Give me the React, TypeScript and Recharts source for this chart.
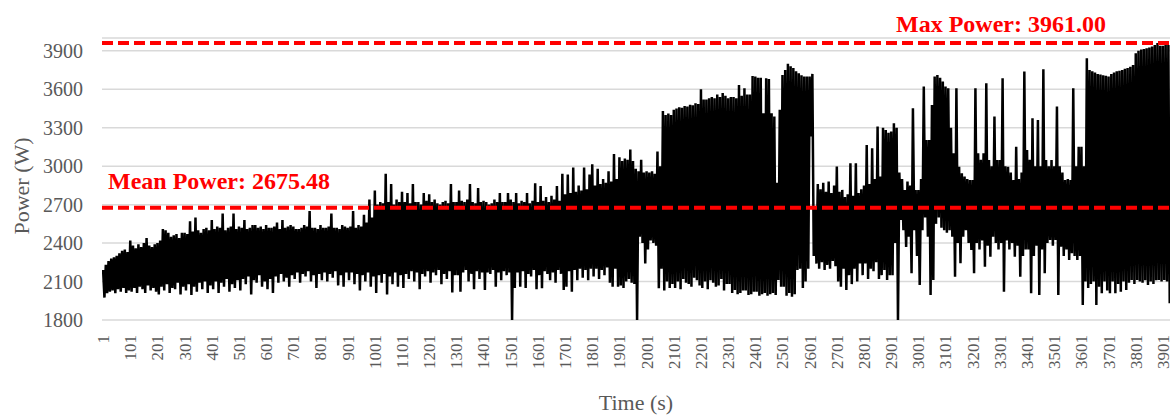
import { CartesianGrid, Line, LineChart, ReferenceLine, XAxis, YAxis } from "recharts";

// power readings taken off the trace, one every SAMPLE_STEP seconds
// (each row below covers 100 s: peak / trough alternating)
const FIRST_SECOND = 1;
const SAMPLE_STEP = 5;

const POWER_W = [
  2190, 1975, 2230, 2010, 2260, 2020, 2280, 2030, 2290, 2010, 2300, 2040, 2320, 2020, 2340, 2050, 2350, 2010, 2330, 2030,
  2420, 2020, 2380, 2050, 2360, 2010, 2390, 2060, 2370, 2040, 2400, 2010, 2440, 2070, 2380, 2030, 2370, 2050, 2390, 2020,
  2400, 2000, 2420, 2060, 2510, 2030, 2500, 2080, 2480, 2010, 2450, 2050, 2460, 2040, 2470, 2090, 2440, 2000, 2480, 2060,
  2480, 2030, 2470, 2080, 2570, 1995, 2490, 2060, 2600, 2020, 2500, 2090, 2480, 2040, 2510, 2100, 2520, 2010, 2500, 2070,
  2580, 2040, 2510, 2100, 2530, 2010, 2520, 2090, 2630, 2060, 2500, 2120, 2520, 2020, 2530, 2080, 2630, 2050, 2510, 2110,
  2530, 2030, 2520, 2120, 2580, 2080, 2510, 2140, 2520, 2000, 2540, 2110, 2540, 2090, 2520, 2150, 2530, 2060, 2510, 2100,
  2540, 2040, 2520, 2120, 2520, 2010, 2530, 2140, 2560, 2090, 2510, 2160, 2580, 2100, 2520, 2130, 2530, 2060, 2540, 2150,
  2530, 2120, 2510, 2170, 2510, 2090, 2520, 2160, 2540, 2140, 2530, 2180, 2650, 2100, 2520, 2150, 2520, 2050, 2510, 2160,
  2540, 2110, 2520, 2170, 2520, 2100, 2530, 2160, 2630, 2130, 2520, 2180, 2520, 2070, 2510, 2150, 2540, 2060, 2530, 2170,
  2520, 2110, 2530, 2170, 2650, 2080, 2520, 2160, 2540, 2030, 2530, 2150, 2620, 2100, 2560, 2170, 2740, 2060, 2600, 2140,
  2810, 2010, 2700, 2150, 2720, 2090, 2710, 2160, 2940, 2000, 2720, 2140, 2860, 2080, 2700, 2170, 2740, 2060, 2720, 2150,
  2800, 2050, 2720, 2160, 2790, 2120, 2710, 2180, 2860, 2100, 2720, 2170, 2720, 2040, 2700, 2160, 2790, 2140, 2730, 2180,
  2780, 2090, 2720, 2170, 2740, 2150, 2710, 2190, 2700, 2080, 2720, 2160, 2730, 2120, 2710, 2180, 2860, 2014, 2720, 2150,
  2720, 2150, 2810, 2020, 2730, 2170, 2720, 2190, 2740, 2100, 2860, 2160, 2720, 2040, 2710, 2180, 2830, 2120, 2720, 2170,
  2730, 2034, 2720, 2170, 2700, 2160, 2710, 2190, 2740, 2060, 2720, 2170, 2790, 2110, 2720, 2180, 2720, 2150, 2790, 2170,
  2740, 1790, 2720, 2050, 2790, 2170, 2710, 2060, 2730, 2180, 2720, 2050, 2790, 2160, 2710, 2140, 2730, 2190, 2867, 2040,
  2720, 2150, 2845, 2047, 2730, 2180, 2760, 2160, 2720, 2110, 2770, 2170, 2740, 2090, 2845, 2190, 2730, 2160, 2940, 2034,
  2780, 2060, 2935, 2180, 2790, 2020, 2990, 2190, 2800, 2110, 2850, 2200, 2810, 2130, 2990, 2190, 2820, 2110, 2935, 2200,
  3015, 2140, 2850, 2200, 2980, 2120, 2860, 2190, 2900, 2150, 2870, 2210, 2960, 2090, 2880, 2060, 3094, 2200, 2900, 2060,
  3070, 2070, 3040, 2050, 3060, 2100, 3050, 2120, 3130, 2090, 3040, 2080, 2980, 1790, 2960, 2450, 3050, 2400, 2950, 2240,
  2960, 2350, 2950, 2420, 2960, 2400, 2940, 2380, 3115, 2047, 3000, 2200, 3430, 2030, 3400, 2100, 3410, 2050, 3400, 2080,
  3440, 2050, 3450, 2100, 3460, 2040, 3455, 2120, 3470, 2090, 3465, 2080, 3480, 2060, 3475, 2130, 3490, 2110, 3485, 2070,
  3600, 2050, 3520, 2100, 3520, 2040, 3530, 2110, 3540, 2090, 3530, 2060, 3560, 2070, 3540, 2120, 3570, 2030, 3550, 2080,
  3530, 2080, 3540, 2010, 3540, 2034, 3530, 2000, 3634, 2010, 3550, 2030, 3608, 2030, 3560, 1995, 3560, 2000, 3704, 2020,
  3700, 2020, 3690, 1990, 3690, 2000, 3413, 2010, 3686, 1990, 3680, 2000, 3413, 2010, 3387, 1995, 2870, 2112, 3440, 2060,
  3712, 2060, 3750, 1990, 3800, 2010, 3780, 1982, 3765, 2000, 3740, 2190, 3725, 2200, 3710, 2050, 3700, 2100, 3700, 2200,
  3700, 3232, 3720, 2300, 2680, 2240, 2860, 2200, 2820, 2250, 2870, 2190, 2800, 2230, 2880, 2200, 2790, 2260, 2850, 2220,
  2997, 2100, 2800, 2060, 2815, 2200, 2760, 2034, 2780, 2150, 3023, 2080, 2770, 2200, 3023, 2100, 2790, 2240, 2820, 2150,
  2850, 2240, 3165, 2120, 2860, 2200, 3140, 2180, 2900, 2250, 3310, 2120, 2920, 2150, 3300, 2190, 3282, 2112, 3260, 2150,
  3270, 2150, 3335, 2400, 3300, 1790, 2950, 2580, 2900, 2500, 2814, 2370, 2880, 2450, 2850, 2164, 3452, 2500, 2814, 2300,
  2814, 2073, 2900, 2500, 3621, 2600, 3204, 2450, 3204, 1995, 3478, 2112, 3699, 2550, 3712, 2600, 3690, 2520, 3660, 2500,
  3621, 2480, 3608, 2500, 3300, 2450, 3100, 2138, 3608, 2400, 2996, 2242, 2944, 2450, 2920, 2500, 2900, 2400, 2892, 2346,
  2892, 2164, 3608, 2400, 3100, 2350, 3050, 2420, 3100, 2216, 3647, 2380, 3048, 2294, 3000, 2450, 3387, 2400, 3048, 2350,
  3048, 2400, 3686, 2021, 3000, 2420, 2996, 2350, 2950, 2400, 2892, 2294, 3152, 2380, 2900, 2138, 2950, 2300, 3738, 2350,
  3126, 2350, 3050, 2008, 3374, 2300, 3000, 2380, 3360, 1995, 3000, 2350, 3756, 2164, 3048, 2400, 3000, 2424, 3048, 2380,
  3000, 2424, 3465, 1995, 3000, 2372, 2950, 2300, 2892, 2350, 2900, 2268, 2892, 2320, 3608, 2300, 3000, 2268, 3152, 2300,
  3152, 1917, 3000, 2100, 3842, 2050, 3751, 2080, 3740, 2100, 3730, 1917, 3720, 2060, 3715, 2008, 3710, 2100, 3705, 2030,
  3700, 2008, 3720, 2100, 3730, 2008, 3740, 2080, 3745, 2020, 3750, 2100, 3760, 2034, 3765, 2090, 3775, 2112, 3790, 2080,
  3881, 2112, 3900, 2100, 3910, 2090, 3915, 2110, 3920, 2073, 3925, 2100, 3933, 2080, 3945, 2110, 3961, 2112, 3940, 2100,
  3940, 2112, 3946, 2100, 3946, 1930,
];

const X_TICKS = [
  1, 101, 201, 301, 401, 501, 601, 701, 801, 901,
  1001, 1101, 1201, 1301, 1401, 1501, 1601, 1701, 1801, 1901,
  2001, 2101, 2201, 2301, 2401, 2501, 2601, 2701, 2801, 2901,
  3001, 3101, 3201, 3301, 3401, 3501, 3601, 3701, 3801, 3901,
];
const Y_TICKS = [1800, 2100, 2400, 2700, 3000, 3300, 3600, 3900];

const MEAN_POWER = 2675.48;
const MAX_POWER = 3961;

const rows = POWER_W.map((p, i) => ({ t: FIRST_SECOND + i * SAMPLE_STEP, power: p }));

const FONT = "'Liberation Serif', 'Times New Roman', serif";
const INK = "#595959";
const RED = "#ff0000";

function XTick({ x, y, payload }: any) {
  return (
    <text
      x={x}
      y={y}
      transform={`rotate(-90, ${x}, ${y})`}
      textAnchor="end"
      dy="0.35em"
      fontSize={17}
      fontFamily={FONT}
      fill={INK}
    >
      {payload.value}
    </text>
  );
}

function YTitle() {
  return (
    <text
      x={21}
      y={186}
      transform="rotate(-90, 21, 186)"
      textAnchor="middle"
      dominantBaseline="central"
      fontSize={22}
      fontFamily={FONT}
      fill={INK}
    >
      Power (W)
    </text>
  );
}

function XTitle() {
  return (
    <text x={636} y={410} textAnchor="middle" fontSize={22} fontFamily={FONT} fill={INK}>
      Time (s)
    </text>
  );
}

function meanLabel(props: any) {
  const vb = props.viewBox;
  return (
    <text x={vb.x + 6} y={vb.y - 19} fontSize={24} fontWeight="bold" fontFamily={FONT} fill={RED}>
      {`Mean Power: ${MEAN_POWER.toFixed(2)}`}
    </text>
  );
}

function maxLabel(props: any) {
  const vb = props.viewBox;
  return (
    <text x={vb.x + 794} y={vb.y - 11} fontSize={24} fontWeight="bold" fontFamily={FONT} fill={RED}>
      {`Max Power: ${MAX_POWER.toFixed(2)}`}
    </text>
  );
}

export default function App() {
  return (
    <div style={{ position: "absolute", left: 0, top: 0, background: "#fff", fontFamily: FONT }}>
      <LineChart width={1172} height={417} data={rows} margin={{ top: 38, right: 2, bottom: 0, left: 0 }}>
        <CartesianGrid vertical={false} stroke="#d9d9d9" strokeWidth={1.5} />
        <XAxis
          dataKey="t"
          type="number"
          domain={[-3, 3927]}
          allowDataOverflow
          ticks={X_TICKS}
          interval={0}
          height={97}
          tick={<XTick />}
          tickMargin={9}
          tickLine={false}
          axisLine={false}
          label={<XTitle />}
        />
        <YAxis
          domain={[1800, 4000]}
          allowDataOverflow
          ticks={Y_TICKS}
          interval={0}
          width={102}
          tick={{ fontSize: 20, fill: INK, fontFamily: FONT }}
          tickMargin={13}
          tickLine={false}
          axisLine={false}
          label={<YTitle />}
        />
        <Line
          type="linear"
          dataKey="power"
          stroke="#000"
          strokeWidth={2.5}
          dot={false}
          isAnimationActive={false}
        />
        <ReferenceLine y={MEAN_POWER} stroke={RED} strokeWidth={4} strokeDasharray="11 5" label={meanLabel} />
        <ReferenceLine y={MAX_POWER} stroke={RED} strokeWidth={4} strokeDasharray="11 5" label={maxLabel} />
      </LineChart>
    </div>
  );
}
